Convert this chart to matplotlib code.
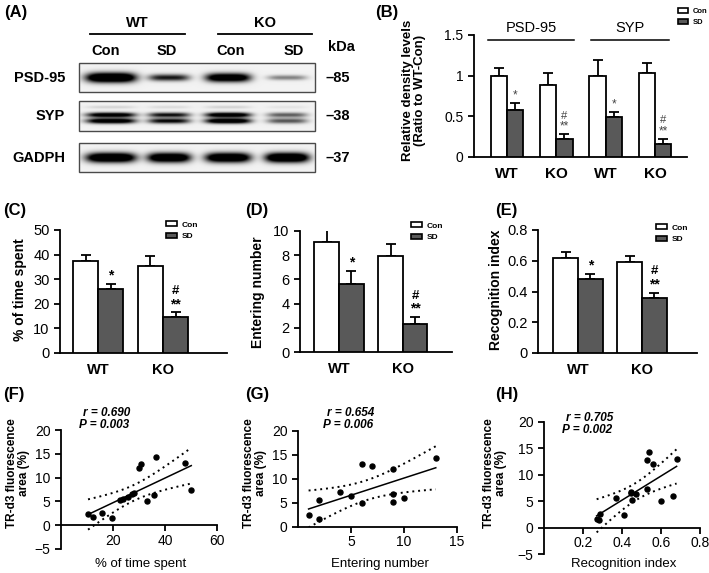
import matplotlib
matplotlib.use("Agg")
import matplotlib.pyplot as plt
from matplotlib.patches import Rectangle, Patch
import numpy as np

# ─── Canvas ──────────────────────────────────────────────────────────────────
W, H = 709, 573
DPI = 100
plt.rcParams["font.family"] = ["Liberation Sans", "DejaVu Sans"]

# ─── Data ────────────────────────────────────────────────────────────────────
# (A) western blot: relative band strength per lane (WT Con, WT SD, KO Con, KO SD)
LANES = ["Con", "SD", "Con", "SD"]
BLOT_ROWS = ["PSD-95", "SYP", "GADPH"]
BLOT_KDA = ["85", "38", "37"]
PSD95_BANDS = [1.00, 0.55, 0.85, 0.28]
SYP_BANDS = [0.90, 0.70, 0.95, 0.45]
GADPH_BANDS = [0.95, 0.90, 0.92, 0.97]

# (B) relative density, groups = PSD-95 WT, PSD-95 KO, SYP WT, SYP KO
B_PROTEINS = ["PSD-95", "SYP"]
B_GROUPS = ["WT", "KO", "WT", "KO"]
B_CON = [1.00, 0.89, 1.00, 1.03]
B_CON_ERR = [0.095, 0.14, 0.19, 0.12]
B_SD = [0.58, 0.22, 0.49, 0.16]
B_SD_ERR = [0.08, 0.062, 0.066, 0.066]
B_STAR = ["*", "**", "*", "**"]
B_HASH = ["", "#", "", "#"]

# (C)-(E) behaviour, groups = WT, KO
GENOTYPES = ["WT", "KO"]
C_CON, C_CON_ERR = [37.6, 35.4], [2.3, 4.1]
C_SD, C_SD_ERR = [25.9, 14.7], [2.3, 1.8]
D_CON, D_CON_ERR = [9.1, 7.9], [1.2, 1.05]
D_SD, D_SD_ERR = [5.6, 2.3], [1.1, 0.6]
E_CON, E_CON_ERR = [0.62, 0.59], [0.035, 0.043]
E_SD, E_SD_ERR = [0.48, 0.36], [0.036, 0.033]
SIG_STAR = ["*", "**"]
SIG_HASH = ["", "#"]

# (F)-(H) correlations with TR-d3 fluorescence area
F_X = [10.4, 12.4, 15.9, 19.7, 22.8, 23.8, 25.9, 27.2, 28.2, 29.9, 30.9, 32.9, 35.9, 36.5, 47.5, 50.1]
F_Y = [2.3, 1.8, 2.6, 1.6, 5.3, 5.6, 5.9, 6.5, 6.8, 12.0, 12.8, 5.0, 6.3, 14.3, 13.1, 7.4]
G_X = [1, 2, 2, 4, 5, 6, 6, 7, 9, 9, 9, 10, 13]
G_Y = [2.5, 1.7, 5.6, 7.3, 6.4, 4.9, 13.1, 12.8, 12.0, 6.8, 5.3, 6.1, 14.4]
H_X = [0.27, 0.28, 0.285, 0.37, 0.41, 0.445, 0.45, 0.445, 0.47, 0.53, 0.53, 0.54, 0.56, 0.60, 0.66, 0.68]
H_Y = [1.7, 1.5, 2.5, 5.6, 2.3, 6.6, 5.3, 6.7, 6.3, 7.3, 12.8, 14.3, 12.0, 5.0, 6.0, 13.0]
STATS = {"F": ("r = 0.690", "P = 0.003"),
         "G": ("r = 0.654", "P = 0.006"),
         "H": ("r = 0.705", "P = 0.002")}

# ─── Styles ──────────────────────────────────────────────────────────────────
SD_GREY = "#595959"
LW = 1.3
T95 = {11: 2.201, 14: 2.145}

fig = plt.figure(figsize=(W / DPI, H / DPI), dpi=DPI)
fig.patch.set_facecolor("white")


def px_axes(x0, y0, x1, y1):
    """Axes from pixel box, (0,0) = top-left."""
    ax = fig.add_axes([x0 / W, 1 - y1 / H, (x1 - x0) / W, (y1 - y0) / H])
    ax.set_facecolor("none")
    return ax


def ftext(x, y, s, **kw):
    fig.text(x / W, 1 - y / H, s, **kw)


def style_axes(ax):
    for side in ("top", "right"):
        ax.spines[side].set_visible(False)
    for side in ("left", "bottom"):
        ax.spines[side].set_linewidth(LW)
    ax.tick_params(axis="both", direction="out", width=LW, length=4)


# ─── Overlay (panel A + panel letters) ───────────────────────────────────────
ov = px_axes(0, 0, W, H)
ov.set_xlim(0, W)
ov.set_ylim(H, 0)
ov.axis("off")

BOX_X0, BOX_X1 = 79, 315
LANE_X = [111, 169, 228, 287]
LANE_HW = [25, 22, 23, 22]
BOXES = [(63, 92), (101, 131), (143, 172)]


def blot_image(amps, h, kind):
    ss = 4
    yy, xx = np.mgrid[0:h * ss, 0:(BOX_X1 - BOX_X0) * ss] / ss
    img = np.full(xx.shape, 0.05)
    for a, xc, hw in zip(amps, LANE_X, LANE_HW):
        prof_x = np.exp(-(((xx + BOX_X0) - xc) / (hw * (0.85 + 0.15 * a))) ** 4)
        if kind == "single":
            prof_y = 1.6 * np.exp(-((yy - h * 0.5) / (1.6 + 3.2 * a)) ** 2)
        elif kind == "double":
            prof_y = 1.4 * (0.95 * np.exp(-((yy - h * 0.46) / 2.4) ** 2)
                            + np.exp(-((yy - h * 0.66) / 2.6) ** 2)
                            + 0.1 * np.exp(-((yy - h * 0.2) / 1.5) ** 2))
        else:
            prof_y = 1.6 * np.exp(-((yy - h * 0.5) / 4.8) ** 2)
        img += a * prof_x * prof_y
    return np.clip(img, 0, 1)


for amps, (y0, y1), kind, name, kda in zip(
        [PSD95_BANDS, SYP_BANDS, GADPH_BANDS], BOXES,
        ["single", "double", "thick"], BLOT_ROWS, BLOT_KDA):
    ov.imshow(blot_image(amps, y1 - y0, kind), cmap="gray_r", vmin=0, vmax=1,
              extent=(BOX_X0, BOX_X1, y1, y0), aspect="auto",
              interpolation="bilinear", zorder=1)
    ov.add_patch(Rectangle((BOX_X0, y0), BOX_X1 - BOX_X0, y1 - y0,
                           fill=False, ec="#4a4a4a", lw=1.0, zorder=2))
    yc = (y0 + y1) / 2
    ov.text(65, yc, name, ha="right", va="center", fontsize=10.5, fontweight="bold")
    ov.text(326, yc, "\u2013" + kda, ha="left", va="center", fontsize=10.5, fontweight="bold")

ov.set_xlim(0, W)
ov.set_ylim(H, 0)
ov.text(341, 47, "kDa", ha="center", va="center", fontsize=10.5, fontweight="bold")
for geno, (lx0, lx1) in zip(["WT", "KO"], [(90, 185), (218, 312)]):
    ov.plot([lx0, lx1], [34, 34], color="black", lw=1.3)
    ov.text((lx0 + lx1) / 2, 23, geno, ha="center", va="center", fontsize=10.5, fontweight="bold")
for lab, xc in zip(LANES, [106, 167, 231, 294]):
    ov.text(xc, 51, lab, ha="center", va="center", fontsize=10.5, fontweight="bold")

for lab, (x, y) in {"(A)": (4, 12), "(B)": (375, 13), "(C)": (3, 210),
                    "(D)": (245, 210), "(E)": (495, 211), "(F)": (3, 395),
                    "(G)": (245, 395), "(H)": (495, 395)}.items():
    ov.text(x, y, lab, ha="left", va="center", fontsize=12, fontweight="bold")


# ─── Bar panels ──────────────────────────────────────────────────────────────
def bars(ax, con, con_err, sd, sd_err, width):
    x = np.arange(len(con))
    for xs, vals, errs, fc in [(x - width / 2, con, con_err, "white"),
                               (x + width / 2, sd, sd_err, SD_GREY)]:
        ax.errorbar(xs, vals, yerr=[np.zeros(len(vals)), errs], fmt="none",
                    ecolor="black", elinewidth=LW, capsize=3.5, capthick=LW, zorder=2)
        ax.bar(xs, vals, width, color=fc, edgecolor="black", lw=LW, zorder=3)
    return x


def marks(ax, xs, tops, stars, hashes, size, color, bold):
    for xv, top, st, hs in zip(xs, tops, stars, hashes):
        ax.annotate(st, (xv, top), xytext=(0, 1), textcoords="offset points",
                    ha="center", va="bottom", fontsize=size, color=color,
                    fontweight="bold" if bold else "normal")
        if hs:
            ax.annotate(hs, (xv, top), xytext=(0, size * 1.0 + 1), textcoords="offset points",
                        ha="center", va="bottom", fontsize=size * 0.95, color=color,
                        fontweight="bold" if bold else "normal")


def bar_legend(ax, x, y, size=6):
    handles = [Patch(facecolor="white", edgecolor="black", lw=1.2, label="Con"),
               Patch(facecolor=SD_GREY, edgecolor="black", lw=1.2, label="SD")]
    leg = ax.legend(handles=handles, loc="upper left", bbox_to_anchor=(x / W, 1 - y / H),
                    bbox_transform=fig.transFigure, frameon=False, fontsize=size,
                    handlelength=1.3, handleheight=0.6, handletextpad=0.6,
                    labelspacing=0.5, borderpad=0, borderaxespad=0)
    for t in leg.get_texts():
        t.set_fontweight("bold")


# (B)
axB = px_axes(474, 35, 687, 157)
wB = 0.33
xB = bars(axB, B_CON, B_CON_ERR, B_SD, B_SD_ERR, wB)
axB.set_xlim(-0.67, 3.65)
axB.set_ylim(0, 1.5)
axB.set_yticks([0, 0.5, 1, 1.5])
axB.set_yticklabels(["0", "0.5", "1", "1.5"])
axB.set_xticks(xB)
axB.set_xticklabels(B_GROUPS, fontsize=11, fontweight="bold")
style_axes(axB)
axB.tick_params(axis="x", length=0, pad=7)
axB.tick_params(axis="y", labelsize=10)
marks(axB, xB + wB / 2, np.add(B_SD, B_SD_ERR), B_STAR, B_HASH, 8.5, "#444444", False)
ftext(414, 90, "Relative density levels\n(Ratio to WT-Con)", rotation=90,
      ha="center", va="center", fontsize=9.5, fontweight="bold", linespacing=1.1)
for prot, (lx0, lx1) in zip(B_PROTEINS, [(488, 574), (591, 669)]):
    ov.plot([lx0, lx1], [40, 40], color="black", lw=1.1)
    ov.text((lx0 + lx1) / 2, 28, prot, ha="center", va="center", fontsize=10.5)
bar_legend(axB, 678, 8, size=5.5)

# (C)-(E)
for (box, con, cerr, sd, serr, ylim, yticks, ylab, ylab_xy, xlim, leg_xy) in [
        ((60, 230, 227, 353), C_CON, C_CON_ERR, C_SD, C_SD_ERR, (0, 50),
         [0, 10, 20, 30, 40, 50], "% of time spent", (20, 290), (-0.585, 1.985), (166, 221)),
        ((300, 231, 452, 352), D_CON, D_CON_ERR, D_SD, D_SD_ERR, (0, 10),
         [0, 2, 4, 6, 8, 10], "Entering number", (258, 292), (-0.61, 1.77), (411, 222)),
        ((538, 230, 697, 353), E_CON, E_CON_ERR, E_SD, E_SD_ERR, (0, 0.8),
         [0, 0.2, 0.4, 0.6, 0.8], "Recognition index", (496, 290), (-0.625, 1.86), (656, 224))]:
    ax = px_axes(*box)
    w = 0.385
    x = bars(ax, con, cerr, sd, serr, w)
    ax.set_xlim(*xlim)
    ax.set_ylim(*ylim)
    ax.set_yticks(yticks)
    ax.set_yticklabels([f"{v:g}" for v in yticks])
    ax.set_xticks(x)
    ax.set_xticklabels(GENOTYPES, fontsize=10.5, fontweight="bold")
    style_axes(ax)
    ax.tick_params(axis="x", length=0, pad=7)
    ax.tick_params(axis="y", labelsize=10.5)
    marks(ax, x + w / 2, np.add(sd, serr), SIG_STAR, SIG_HASH, 10, "black", True)
    ftext(*ylab_xy, ylab, rotation=90, ha="center", va="center", fontsize=10, fontweight="bold")
    bar_legend(ax, *leg_xy)


# ─── Scatter panels ──────────────────────────────────────────────────────────
def scatter_panel(box, xs, ys, xlim, ylim, xticks, yticks, xlab, ylab_x, stat_x, stat_y, key, xfmt):
    ax = px_axes(*box)
    xs, ys = np.asarray(xs, float), np.asarray(ys, float)
    ax.plot(xs, ys, "o", color="black", ms=3.6, zorder=3, clip_on=False)
    slope, icpt = np.polyfit(xs, ys, 1)
    n = len(xs)
    xl = np.linspace(xs.min(), xs.max(), 60)
    yl = icpt + slope * xl
    s = np.sqrt(np.sum((ys - (icpt + slope * xs)) ** 2) / (n - 2))
    half = T95[n - 2] * s * np.sqrt(1 / n + (xl - xs.mean()) ** 2 / np.sum((xs - xs.mean()) ** 2))
    ax.plot(xl, yl, color="black", lw=1.1, zorder=2)
    ax.plot(xl, yl + half, color="black", lw=1.4, ls=(0, (1, 2)), zorder=2)
    ax.plot(xl, yl - half, color="black", lw=1.4, ls=(0, (1, 2)), zorder=2)
    ax.set_xlim(*xlim)
    ax.set_ylim(*ylim)
    ax.set_xticks(xticks)
    ax.set_xticklabels([xfmt.format(v) for v in xticks])
    ax.set_yticks(yticks)
    style_axes(ax)
    ax.spines["bottom"].set_position(("data", 0))
    ax.tick_params(axis="both", labelsize=10)
    ax.tick_params(axis="x", pad=2)
    ftext(ylab_x, 473, "TR-d3 fluorescence\narea (%)", rotation=90, ha="center",
          va="center", fontsize=8.5, fontweight="bold", linespacing=1.1)
    ftext((box[0] + box[2]) / 2 + 2, 564, xlab, ha="center", va="center", fontsize=9.5)
    r_txt, p_txt = STATS[key]
    ftext(stat_x, stat_y, r_txt, ha="center", va="center", fontsize=8.5,
          fontweight="bold", style="italic")
    ftext(stat_x - 3, stat_y + 12, p_txt, ha="center", va="center", fontsize=8.5,
          fontweight="bold", style="italic")
    return ax


scatter_panel((61, 430, 217, 549), F_X, F_Y, (0, 60), (-5, 20), [20, 40, 60],
              [-5, 0, 5, 10, 15, 20], "% of time spent", 18, 107, 413, "F", "{:g}")
scatter_panel((298, 431, 457, 527), G_X, G_Y, (0, 15), (0, 20), [5, 10, 15],
              [0, 5, 10, 15, 20], "Entering number", 255, 351, 413, "G", "{:g}")
scatter_panel((544, 422, 700, 554), H_X, H_Y, (0, 0.8), (-5, 20), [0.2, 0.4, 0.6, 0.8],
              [-5, 0, 5, 10, 15, 20], "Recognition index", 495, 590, 418, "H", "{:.1f}")

fig.savefig("out.png", dpi=DPI, facecolor="white")
